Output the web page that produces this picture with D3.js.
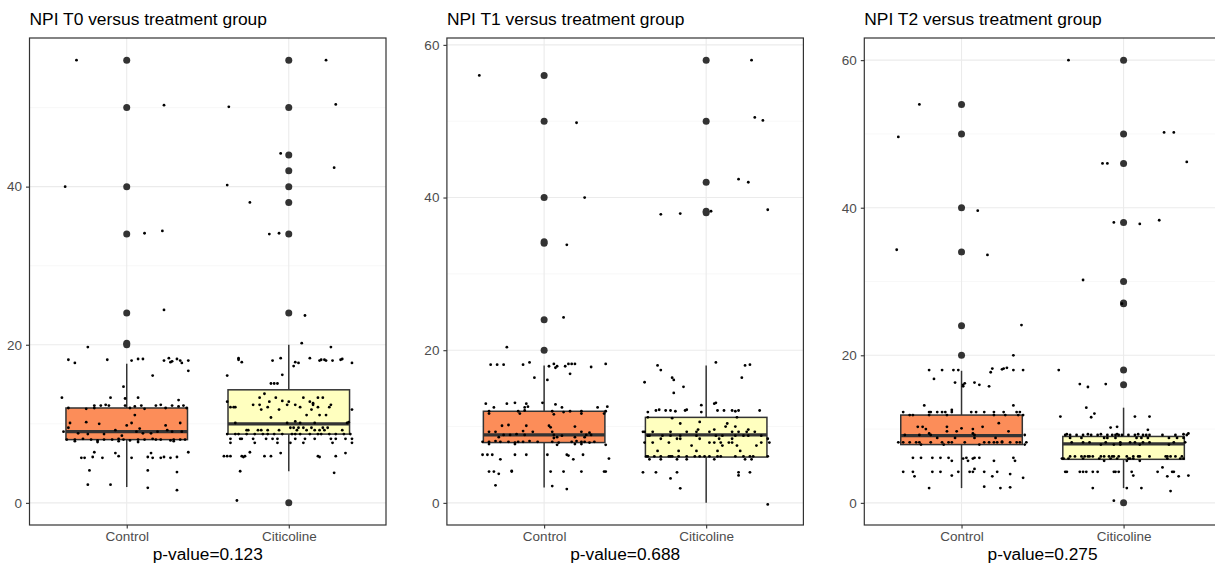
<!DOCTYPE html>
<html>
<head>
<meta charset="utf-8">
<script src="https://cdn.jsdelivr.net/npm/d3@7"></script>
<style>
    body { margin: 0; background: #fff; }
    text { font-family: "Liberation Sans", Arial, sans-serif; }
</style>
</head>
<body>
<svg id="chart"></svg>
<script>
//Categories, titles and test results.
var groups = ["Control", "Citicoline"];
var titles = ["NPI T0 versus treatment group", "NPI T1 versus treatment group", "NPI T2 versus treatment group"];
var pValues = ["0.123", "0.688", "0.275"];
var boxColors = ["#fc8d59", "#ffffbf"];

//Box stats per group: [lower whisker, Q1, median, Q3, upper whisker].
var t0Stats = [[2, 8, 9, 12, 17.6], [4, 8.7, 10, 14.3, 20]];
var t1Stats = [[2, 7.9, 8.9, 12, 18], [0, 6, 8.9, 11.2, 18]];
var t2Stats = [[2, 7.9, 9.1, 11.9, 17.9], [2, 5.9, 8, 9, 12.9]];

//Outliers drawn by the boxplot.
var t0Outliers = [[20, 20.2, 24, 34, 40, 50, 56], [0, 24, 34, 38, 40, 42, 44, 50, 56]];
var t1Outliers = [[20, 24, 34, 34.2, 40, 50, 56], [38, 38.2, 42, 50, 58]];
var t2Outliers = [[20, 24, 34, 40, 50, 54], [0, 16, 18, 27, 27.1, 30, 38, 46, 50, 60]];

//Jittered raw points: [horizontal offset from group centre, value].
var t0Control = [
    [-0.31,56.0],[0.23,50.3],[-0.38,40.0],[0.11,34.1],[0.22,34.4],[0.23,24.4],[-0.24,19.7],
    [-0.36,18.1],[-0.12,18.1],[0.03,18.0],[0.07,18.2],[0.10,18.2],[0.23,18.0],[0.28,17.9],[0.31,18.2],[0.33,18.0],[0.38,18.0],
    [-0.32,17.7],[0.27,17.8],[0.34,17.7],[0.26,18.3],[0.38,16.7],[0.16,16.1],[-0.02,14.7],
    [-0.40,13.3],[-0.10,13.3],[0.07,13.3],[-0.01,13.2],[0.32,13.0],
    [-0.20,12.3],[-0.16,12.3],[-0.13,12.4],[-0.11,12.3],[-0.01,12.3],[0.05,12.2],[0.09,12.3],[0.18,12.3],[0.21,12.4],[0.28,12.3],[0.32,12.2],[0.35,12.3],
    [-0.36,12.0],[-0.25,11.9],[-0.20,12.0],[0.02,12.0],[0.11,11.9],[0.24,12.0],[0.37,12.0],
    [0.05,11.1],[-0.35,10.1],[-0.25,10.2],[-0.17,10.0],[0.03,10.1],[0.33,10.1],[0.0,9.8],[0.24,9.8],[-0.36,9.5],
    [-0.07,9.2],[0.08,9.4],[0.25,9.2],[-0.39,9.0],[0.06,9.0],[0.19,9.0],[0.28,9.0],[0.34,9.0],[-0.30,8.8],[0.10,8.8],[0.15,8.8],[-0.24,8.7],[-0.14,8.7],[-0.03,8.5],
    [-0.37,8.0],[-0.32,8.0],[-0.27,8.1],[-0.22,8.0],[-0.18,7.9],[-0.14,8.0],[-0.09,8.0],[-0.05,8.1],[-0.02,8.0],[0.02,7.9],[0.07,8.0],[0.11,8.0],[0.16,8.1],[0.18,8.0],[0.21,8.0],[0.27,7.9],[0.29,8.0],[0.33,8.0],[0.36,8.0],
    [-0.32,7.8],[-0.18,7.7],[-0.05,7.8],[0.07,7.7],[0.29,7.8],
    [-0.20,6.4],[0.38,6.4],[-0.07,6.3],[0.15,6.3],[-0.05,5.9],
    [-0.28,5.7],[-0.26,5.7],[-0.21,5.8],[-0.15,5.7],[0.03,5.7],[0.13,5.8],[0.16,5.7],[0.21,5.7],[0.23,5.8],[0.27,5.7],[0.31,5.8],
    [-0.23,4.1],[0.13,4.1],[0.31,3.9],[-0.24,2.3],[-0.10,2.3],[0.13,1.9],[0.31,1.6]
];
var t0Citicoline = [
    [0.23,56.0],[-0.37,50.1],[0.29,50.4],[-0.05,44.2],[0.28,42.4],[-0.38,40.2],[-0.24,38.0],[-0.12,34.0],[-0.06,34.1],[0.10,23.7],[-0.32,0.3],
    [0.08,20.2],[0.26,19.7],
    [-0.31,18.3],[-0.05,18.3],[0.13,18.3],[-0.31,18.1],[0.20,18.1],[0.22,18.1],[0.32,18.1],[0.33,18.2],[-0.10,18.0],[0.19,18.0],[0.23,18.0],[0.27,18.0],[-0.29,17.8],[0.04,17.8],[0.06,17.7],[0.39,17.7],[0.03,17.3],
    [-0.38,16.1],[-0.04,16.2],[-0.11,15.1],[-0.09,15.1],[-0.07,15.1],[-0.15,13.8],
    [-0.18,13.3],[-0.08,13.3],[0.09,13.3],[0.18,13.3],[0.21,13.3],[-0.04,12.9],
    [-0.38,12.8],[-0.12,12.8],[0.0,12.8],[0.13,12.8],[0.15,12.6],
    [-0.22,12.4],[-0.18,12.4],[-0.01,12.4],[0.04,12.4],[0.15,12.4],[0.26,12.4],
    [-0.36,12.1],[-0.34,12.1],[-0.33,12.1],[-0.13,12.1],[0.07,12.1],[0.18,12.1],[0.25,12.1],
    [-0.17,11.8],[-0.06,11.8],[0.14,11.8],[0.39,11.8],[0.11,11.1],[0.19,11.1],[0.23,11.1],[-0.11,10.8],[0.04,10.3],
    [-0.33,10.1],[-0.01,10.1],[0.07,10.1],[0.16,10.1],[0.36,10.1],[0.37,10.2],
    [0.01,9.5],[0.03,9.5],[0.06,9.5],[0.09,9.5],[0.14,9.5],[0.21,9.5],[0.24,9.5],
    [-0.26,9.2],[-0.25,9.2],[-0.19,9.2],[-0.17,9.2],[-0.13,9.2],[-0.06,9.2],[0.05,9.2],[0.11,9.2],[0.16,9.2],[0.19,9.2],[0.22,9.2],[0.33,9.2],
    [-0.38,8.7],[-0.33,8.7],[-0.31,8.7],[-0.26,8.7],[-0.21,8.7],[-0.16,8.7],[-0.13,8.7],[-0.09,8.7],[-0.04,8.7],[0.02,8.7],[0.04,8.7],[0.07,8.7],[0.13,8.7],[0.18,8.7],[0.20,8.7],[0.25,8.7],[0.29,8.7],[0.34,8.7],[0.38,8.7],
    [-0.36,8.1],[-0.30,8.1],[-0.29,8.1],[-0.22,8.1],[-0.14,8.1],[-0.10,8.1],[-0.07,8.1],[0.04,8.1],[0.10,8.1],[0.16,8.1],[0.26,8.1],[0.29,8.1],[0.35,8.1],[0.39,8.1],
    [-0.36,7.6],[-0.21,7.6],[-0.07,7.6],[0.01,7.6],[0.09,7.6],[0.27,7.6],[0.39,7.6],
    [-0.24,6.4],[-0.05,6.3],[0.35,6.3],
    [-0.40,5.9],[-0.38,5.9],[-0.36,5.9],[-0.29,5.9],[-0.28,5.8],[-0.27,5.9],[-0.15,5.9],[-0.11,5.9],[0.18,5.9],[0.19,5.8],[0.29,5.9],
    [-0.30,4.0],[0.28,3.8]
];
var t1Control = [
    [-0.40,56.0],[0.20,49.8],[0.25,40.0],[0.14,33.8],[0.12,24.3],[-0.23,20.4],
    [-0.33,18.1],[-0.29,18.1],[-0.25,18.1],[-0.13,18.1],[0.29,17.8],[0.38,18.2],[-0.09,18.4],[0.03,17.9],[0.08,17.9],[0.13,17.9],[0.06,18.2],[0.15,18.2],[0.17,18.2],[0.19,18.2],[0.07,17.7],
    [0.16,16.9],[-0.06,16.4],[0.02,16.1],
    [-0.36,13.0],[-0.23,13.0],[-0.18,13.1],[-0.11,13.0],[-0.01,13.1],[0.07,12.9],
    [-0.31,12.5],[-0.12,12.5],[-0.10,12.6],[0.11,12.5],[0.33,12.5],[0.39,12.6],
    [-0.34,12.0],[-0.16,12.0],[-0.12,12.1],[0.05,12.0],[0.12,11.9],[0.16,12.0],[0.23,12.0],[0.38,12.0],
    [-0.34,11.7],[-0.15,11.7],[0.06,11.6],[0.23,11.7],[0.37,11.7],
    [-0.26,10.1],[-0.22,10.2],[-0.11,10.1],[0.03,10.1],[0.19,10.0],[0.04,9.9],
    [-0.34,9.3],[-0.30,9.3],[-0.13,9.4],[-0.07,9.3],[0.05,9.3],[0.23,9.3],[0.28,9.2],
    [-0.25,8.9],[-0.21,8.9],[-0.17,9.0],[-0.12,8.9],[0.06,8.9],[0.11,8.8],[0.26,8.9],[0.29,8.9],
    [-0.28,8.6],[0.06,8.5],[0.08,8.6],[0.19,8.6],[0.25,8.6],
    [-0.38,8.0],[-0.34,8.0],[-0.30,8.1],[-0.27,8.0],[-0.22,8.0],[-0.18,7.9],[-0.16,8.0],[-0.13,8.0],[-0.09,8.1],[-0.04,8.0],[0.05,8.0],[0.09,7.9],[0.17,8.0],[0.20,8.1],[0.23,8.0],[0.25,8.0],[0.28,7.9],[0.31,8.0],
    [-0.34,7.7],[-0.18,7.7],[0.08,7.6],[0.19,7.7],[0.23,7.7],[0.38,7.6],
    [-0.38,6.3],[-0.35,6.3],[-0.32,6.3],[-0.18,6.3],[-0.11,6.3],[0.02,6.3],[0.14,6.3],[0.15,6.2],[0.24,6.3],
    [-0.27,5.7],[0.18,5.7],[0.40,5.8],
    [-0.34,4.1],[-0.31,4.1],[-0.20,4.1],[-0.20,4.2],[0.04,4.1],[0.12,4.1],[0.23,4.1],[0.37,4.1],[0.38,4.1],[-0.28,3.8],
    [-0.30,2.3],[0.05,2.2],[0.14,1.8]
];
var t1Citicoline = [
    [0.28,58.0],[0.30,50.5],[0.35,50.1],[0.20,42.4],[0.26,42.0],[-0.28,37.8],[-0.16,37.9],[0.03,38.2],[0.38,38.4],
    [0.06,18.4],[-0.30,18.0],[0.24,18.0],[0.27,18.1],[-0.28,17.4],[-0.21,16.4],[0.22,16.4],[-0.20,16.1],[-0.38,15.8],[-0.14,15.2],[-0.20,14.4],
    [0.06,13.1],[0.05,13.0],[-0.03,12.8],
    [-0.31,12.1],[-0.29,12.2],[-0.25,12.1],[-0.22,12.1],[-0.19,12.0],[-0.13,12.1],[-0.12,12.2],[0.07,12.1],[0.11,12.1],[0.16,12.1],[0.18,12.0],[0.20,12.1],[0.33,12.1],
    [-0.36,11.9],[-0.03,11.9],[-0.36,11.2],[0.19,11.2],[-0.21,11.1],
    [-0.04,10.6],[-0.16,10.4],[0.13,10.4],[0.12,10.0],[0.18,10.0],[-0.05,9.6],[0.05,9.6],[0.26,9.6],
    [-0.39,9.3],[-0.38,9.3],[-0.33,9.3],[-0.22,9.3],[-0.12,9.3],[-0.06,9.3],[0.02,9.3],[0.16,9.3],[0.20,9.3],[0.25,9.3],[0.30,9.3],
    [-0.36,8.8],[-0.35,8.8],[-0.27,8.8],[-0.22,8.8],[-0.16,8.8],[-0.06,8.8],[0.06,8.8],[0.10,8.8],[0.18,8.8],[0.23,8.8],[0.26,8.8],[0.34,8.8],
    [-0.28,8.4],[-0.18,8.4],[-0.16,8.4],[-0.04,8.4],[0.08,8.4],[0.16,8.4],[0.38,8.4],
    [-0.38,7.9],[-0.33,7.9],[-0.23,7.9],[0.02,7.9],[0.05,7.9],[0.09,7.9],[0.14,7.9],[0.16,7.9],[0.34,7.9],[0.39,7.9],
    [-0.09,7.5],[0.10,7.5],[0.19,7.5],[0.31,7.5],
    [-0.30,6.8],[-0.17,6.8],[-0.06,6.8],[0.07,6.8],[0.21,6.8],
    [-0.37,6.1],[-0.36,6.1],[-0.32,6.1],[-0.28,6.1],[-0.23,6.1],[-0.22,6.1],[-0.21,6.1],[-0.17,6.1],[-0.12,6.1],[-0.07,6.1],[-0.04,6.1],[-0.01,6.1],[0.02,6.1],[0.07,6.1],[0.09,6.1],[0.18,6.1],[0.23,6.1],[0.27,6.1],[0.29,6.1],[0.38,6.1],
    [-0.35,5.7],[-0.28,5.7],[-0.18,5.7],[-0.12,5.7],[0.05,5.7],[0.24,5.7],[0.28,5.7],
    [-0.39,4.0],[-0.31,4.0],[-0.18,4.0],[0.20,4.0],[0.27,4.0],[0.20,3.6],[-0.22,3.2],[-0.16,1.9],[0.38,-0.2]
];
var t2Control = [
    [-0.26,54.0],[-0.39,49.6],[0.10,39.6],[-0.40,34.3],[0.16,33.6],[0.37,24.1],[0.32,20.0],
    [0.28,18.3],[0.26,18.2],[0.19,18.2],[-0.20,18.0],[-0.12,18.0],[-0.05,18.0],[-0.02,18.0],[0.32,18.0],[0.38,18.0],[0.25,18.1],[0.18,17.7],
    [-0.17,16.8],[-0.04,16.3],[0.08,16.3],[0.02,16.2],[0.01,16.0],[0.11,16.0],[0.01,15.8],[0.17,15.8],
    [-0.23,13.2],[0.32,13.2],[-0.06,12.6],
    [-0.36,12.3],[-0.20,12.3],[-0.19,12.3],[-0.15,12.3],[-0.12,12.3],[-0.10,12.3],[-0.06,12.3],[0.06,12.3],[0.09,12.3],[0.14,12.3],[0.20,12.3],[0.26,12.3],[0.34,12.3],[0.36,12.3],
    [-0.32,11.9],[-0.30,11.9],[-0.20,11.9],[-0.09,11.9],[0.20,11.9],[0.27,11.9],[0.35,11.9],[0.38,11.9],
    [0.23,10.8],[-0.27,10.3],[-0.24,10.3],[-0.09,10.3],[0.13,10.3],[-0.09,9.7],[-0.03,9.7],[0.29,9.7],[-0.22,10.0],[0.07,10.0],[0.0,10.1],
    [-0.20,9.4],[0.07,9.4],[-0.35,9.2],[-0.26,9.2],[-0.19,9.2],[0.08,9.2],[0.39,9.2],
    [-0.15,8.8],[-0.04,8.8],[0.08,8.8],[0.21,8.8],
    [-0.39,8.2],[-0.36,8.2],[-0.32,8.2],[-0.28,8.2],[-0.26,8.2],[-0.19,8.2],[-0.12,8.2],[-0.08,8.2],[-0.06,8.2],[0.02,8.2],[0.14,8.2],[0.17,8.2],[0.20,8.2],[0.22,8.2],[0.25,8.2],[0.25,8.3],[0.30,8.2],[0.34,8.2],[0.36,8.2],[0.40,8.2],
    [-0.25,7.9],[-0.11,7.9],[0.11,7.9],[0.39,7.9],
    [-0.30,6.1],[-0.25,6.1],[-0.18,6.1],[-0.13,6.1],[-0.08,6.1],[0.03,6.1],[0.08,6.1],[0.11,6.1],[0.32,6.1],[0.01,6.0],[0.07,6.0],
    [-0.06,5.7],[0.04,5.7],[0.20,5.7],[0.33,5.7],[0.08,4.6],
    [-0.36,4.2],[-0.30,4.2],[-0.18,4.2],[-0.13,4.2],[-0.02,4.2],[0.05,4.2],[0.07,4.2],[0.14,4.2],[0.22,4.2],[0.30,3.9],[-0.06,3.7],[-0.29,3.6],[0.19,3.6],[0.38,3.4],
    [0.14,2.2],[-0.20,2.0],[0.24,2.0],[0.30,2.1]
];
var t2Citicoline = [
    [-0.34,60.0],[0.25,50.2],[0.31,50.2],[-0.13,46.0],[-0.10,46.0],[0.39,46.2],[-0.06,38.0],[0.10,37.8],[0.22,38.3],[-0.25,30.2],[-0.01,27.0],
    [-0.40,18.0],[-0.27,16.1],[-0.11,16.1],[-0.22,15.7],[-0.23,12.9],[-0.18,12.1],[-0.20,11.6],[-0.39,11.7],[0.07,11.7],[0.16,11.7],
    [-0.04,10.3],[-0.08,10.2],[0.15,9.9],
    [-0.36,9.2],[-0.35,9.3],[-0.33,9.2],[-0.29,9.2],[-0.25,9.2],[-0.22,9.3],[-0.20,9.2],[-0.16,9.2],[-0.14,9.3],[-0.10,9.2],[-0.07,9.2],[-0.05,9.2],[-0.04,9.3],[-0.03,9.2],[-0.01,9.2],[0.03,9.2],[0.07,9.2],[0.09,9.3],[0.12,9.2],[0.14,9.2],[0.16,9.2],[0.24,9.2],[0.32,9.2],[0.37,9.3],[0.39,9.2],[0.40,9.4],
    [-0.33,8.8],[-0.26,8.8],[-0.12,8.8],[-0.10,8.8],[-0.05,8.8],[0.08,8.8],[0.11,8.8],[0.15,8.8],[0.28,8.8],[0.33,8.8],[0.37,8.8],
    [-0.32,8.2],[-0.25,8.2],[-0.21,8.2],[-0.11,8.2],[-0.02,8.2],[0.04,8.2],[0.07,8.2],[0.12,8.2],[0.16,8.2],[0.31,8.2],[0.38,8.2],
    [-0.14,7.9],[-0.06,7.9],[-0.02,7.9],[0.10,7.9],[0.28,7.9],
    [-0.33,6.3],[-0.30,6.3],[-0.26,6.3],[-0.24,6.3],[-0.22,6.3],[-0.21,6.3],[-0.19,6.3],[-0.14,6.3],[-0.12,6.3],[-0.09,6.3],[-0.07,6.3],[-0.06,6.3],[-0.03,6.3],[0.02,6.3],[0.06,6.3],[0.09,6.3],[0.10,6.3],[0.16,6.3],[0.26,6.3],[0.27,6.3],[0.29,6.3],[0.32,6.3],[0.36,6.3],
    [-0.38,6.0],[-0.37,6.0],[-0.34,6.0],[-0.25,6.0],[-0.15,6.0],[-0.08,6.0],[-0.04,6.0],[0.03,6.0],[0.04,6.0],[0.06,6.0],[0.27,6.0],[0.35,6.0],[0.37,6.0],
    [-0.12,5.7],[0.02,5.7],[0.10,5.7],[0.24,4.8],
    [-0.36,4.2],[-0.35,4.2],[-0.27,4.2],[-0.25,4.2],[-0.23,4.2],[-0.19,4.2],[-0.16,4.2],[-0.06,4.2],[-0.05,4.2],[-0.03,4.2],[0.05,4.2],[0.21,4.2],[0.30,4.2],[0.31,4.2],
    [0.06,3.7],[0.40,3.7],[0.27,3.6],[0.34,3.6],
    [-0.19,2.0],[0.02,2.0],[0.11,2.0],[0.29,1.6],[-0.06,0.3]
];

(function () {

    //Collects the arrays into one table per panel.
    var panels = [
        { title: titles[0], p: pValues[0], stats: t0Stats, outliers: t0Outliers, points: [t0Control, t0Citicoline] },
        { title: titles[1], p: pValues[1], stats: t1Stats, outliers: t1Outliers, points: [t1Control, t1Citicoline] },
        { title: titles[2], p: pValues[2], stats: t2Stats, outliers: t2Outliers, points: [t2Control, t2Citicoline] }
    ];

    var width = 1215,
        height = 569,
        panelWidth = 356.5,
        panelTop = 38,
        panelBottom = 525,
        panelStep = 417.4,
        firstLeft = 29.5,
        lineColor = "#333";

    var svg = d3.select("#chart")
        .attr("width", width)
        .attr("height", height);

    svg.append("rect")
        .attr("width", width)
        .attr("height", height)
        .attr("fill", "#fff");

    panels.forEach(function (panel, i) {
        drawPanel(panel, firstLeft + i * panelStep);
    });

    //Draws one boxplot panel.
    function drawPanel(panel, left) {
        var g = svg.append("g");

        //Data range from whiskers and outliers, padded by 5% like ggplot.
        var all = [];
        panel.stats.forEach(function (s) { all.push(s[0], s[4]); });
        panel.outliers.forEach(function (o) { all = all.concat(o); });
        var lo = d3.min(all), hi = d3.max(all), pad = (hi - lo) * 0.05;

        var y = d3.scaleLinear()
            .domain([lo - pad, hi + pad])
            .range([panelBottom, panelTop]);

        var x = d3.scaleLinear()
            .domain([0.4, 2.6])
            .range([left, left + panelWidth]);

        var majors = d3.range(0, hi + pad, 20);
        var minors = d3.range(10, hi + pad, 20);

        //Grid lines.
        g.selectAll(".minor")
            .data(minors)
            .enter()
            .append("line")
            .attr("x1", left).attr("x2", left + panelWidth)
            .attr("y1", y).attr("y2", y)
            .attr("stroke", "#f3f3f3")
            .attr("stroke-width", 0.6);

        g.selectAll(".major")
            .data(majors)
            .enter()
            .append("line")
            .attr("x1", left).attr("x2", left + panelWidth)
            .attr("y1", y).attr("y2", y)
            .attr("stroke", "#ebebeb")
            .attr("stroke-width", 1.1);

        g.selectAll(".vmajor")
            .data([1, 2])
            .enter()
            .append("line")
            .attr("x1", x).attr("x2", x)
            .attr("y1", panelTop).attr("y2", panelBottom)
            .attr("stroke", "#ebebeb")
            .attr("stroke-width", 1.1);

        //Boxplots.
        panel.stats.forEach(function (s, gi) {
            var cx = x(gi + 1);
            var box = g.append("g");

            box.append("line")
                .attr("x1", cx).attr("x2", cx)
                .attr("y1", y(s[3])).attr("y2", y(s[4]))
                .attr("stroke", lineColor).attr("stroke-width", 1.5);
            box.append("line")
                .attr("x1", cx).attr("x2", cx)
                .attr("y1", y(s[1])).attr("y2", y(s[0]))
                .attr("stroke", lineColor).attr("stroke-width", 1.5);

            box.append("rect")
                .attr("x", x(gi + 1 - 0.375))
                .attr("width", x(gi + 1 + 0.375) - x(gi + 1 - 0.375))
                .attr("y", y(s[3]))
                .attr("height", y(s[1]) - y(s[3]))
                .attr("fill", boxColors[gi])
                .attr("stroke", lineColor)
                .attr("stroke-width", 1.5);

            box.append("line")
                .attr("x1", x(gi + 1 - 0.375)).attr("x2", x(gi + 1 + 0.375))
                .attr("y1", y(s[2])).attr("y2", y(s[2]))
                .attr("stroke", lineColor).attr("stroke-width", 3.2);

            box.selectAll(".outlier")
                .data(panel.outliers[gi])
                .enter()
                .append("circle")
                .attr("cx", cx)
                .attr("cy", function (d) { return y(d); })
                .attr("r", 3.5)
                .attr("fill", lineColor);
        });

        //Jittered points on top.
        panel.points.forEach(function (pts, gi) {
            g.selectAll(".pt" + gi)
                .data(pts)
                .enter()
                .append("circle")
                .attr("cx", function (d) { return x(gi + 1 + d[0]); })
                .attr("cy", function (d) { return y(d[1]); })
                .attr("r", 1.4)
                .attr("fill", "#000");
        });

        //Axes.
        var yAxis = d3.axisLeft(y).tickValues(majors).tickSize(3.5).tickPadding(4);
        var ya = g.append("g")
            .attr("transform", "translate(" + left + ",0)")
            .call(yAxis);

        var xAxis = d3.axisBottom(x)
            .tickValues([1, 2])
            .tickFormat(function (d) { return groups[d - 1]; })
            .tickSize(3.5)
            .tickPadding(3);
        var xa = g.append("g")
            .attr("transform", "translate(0," + panelBottom + ")")
            .call(xAxis);

        [ya, xa].forEach(function (a) {
            a.select(".domain").remove();
            a.selectAll(".tick line").attr("stroke", lineColor).attr("stroke-width", 1.1);
            a.selectAll(".tick text")
                .attr("fill", "#4d4d4d")
                .style("font-size", "13.5px")
                .style("font-family", "'Liberation Sans', Arial, sans-serif");
        });

        //Panel border.
        g.append("rect")
            .attr("x", left)
            .attr("y", panelTop)
            .attr("width", panelWidth)
            .attr("height", panelBottom - panelTop)
            .attr("fill", "none")
            .attr("stroke", lineColor)
            .attr("stroke-width", 1.2);

        //Title and p-value.
        g.append("text")
            .attr("x", left)
            .attr("y", 25)
            .style("font-size", "17.4px")
            .attr("fill", "#000")
            .text(panel.title);

        g.append("text")
            .attr("x", left + panelWidth / 2)
            .attr("y", 560)
            .attr("text-anchor", "middle")
            .style("font-size", "17.3px")
            .attr("fill", "#000")
            .text("p-value=" + panel.p);
    }

})();
</script>
</body>
</html>
